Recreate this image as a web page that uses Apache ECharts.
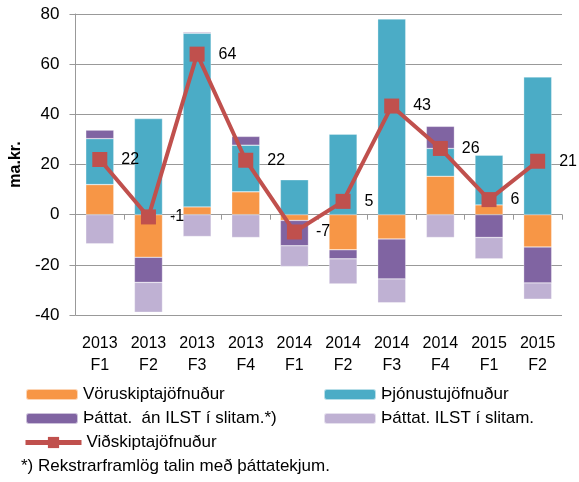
<!DOCTYPE html>
<html>
<head>
<meta charset="utf-8">
<script src="https://cdn.jsdelivr.net/npm/echarts@6/dist/echarts.min.js"></script>
<style>
html,body{margin:0;padding:0;background:#fff;}
#c{width:579px;height:482px;}
</style>
</head>
<body>
<div id="c"></div>
<script>
var categories = ['2013\nF1','2013\nF2','2013\nF3','2013\nF4','2014\nF1','2014\nF2','2014\nF3','2014\nF4','2015\nF1','2015\nF2'];
var voruskipta = [12.0, -17.0, 3.1, 9.1, -2.3, -14.0, -9.7, 15.3, 3.9, -12.9];
var thjonustu  = [18.3, 38.3, 69.2, 18.6, 13.9, 32.1, 78.0, 11.1, 19.8, 54.9];
var thattatAn  = [3.4, -10.0, 0.4, 3.5, -10.1, -3.6, -15.9, 8.8, -9.1, -14.3];
var thattatILST= [-11.6, -11.9, -8.7, -9.1, -8.3, -10.0, -9.5, -9.1, -8.5, -6.5];
var vidskipta  = [22.0, -0.9, 64.0, 21.7, -6.9, 5.3, 43.3, 26.4, 6.0, 21.3];
var yTicks = {min:-40, max:80, interval:20};
var names = ['Vöruskiptajöfnuður','Þjónustujöfnuður','Þáttat.  án ILST í slitam.*)','Þáttat. ILST í slitam.','Viðskiptajöfnuður'];
var footnote = '*) Rekstrarframlög talin með þáttatekjum.';

var FONT = 'Liberation Sans';
var chart = echarts.init(document.getElementById('c'));
function barSeries(name, data, color){
  return {name:name, type:'bar', stack:'a', data:data, barWidth:28,
    itemStyle:{color:color, borderColor:'rgba(255,255,255,0.6)', borderWidth:0.5}};
}
function leg(name, left, top, isLine){
  var l = {data:[name], left:left, top:top, orient:'horizontal',
    itemWidth: isLine?56:52, itemHeight: isLine?14:11, itemGap:5, padding:0,
    textStyle:{fontFamily:FONT, fontSize:17, color:'#000', lineHeight:17}};
  if (isLine) { l.lineStyle = {width:5}; }
  return l;
}
var option = {
  animation:false,
  backgroundColor:'#fff',
  textStyle:{fontFamily:FONT},
  grid:{left:66, right:17, top:14, bottom:167, containLabel:false},
  legend:[
    leg(names[0], 25, 386),
    leg(names[1], 323, 386),
    leg(names[2], 25, 410),
    leg(names[3], 323, 410),
    leg(names[4], 23, 434, true)
  ],
  graphic:[{type:'text', left:21, top:458, style:{text:footnote, font:'17px "Liberation Sans"', fill:'#000'}}],
  xAxis:[
    {type:'category', data:categories, position:'bottom',
     axisLine:{onZero:true, lineStyle:{color:'#999', width:1}},
     axisTick:{show:true, length:5, alignWithLabel:false, lineStyle:{color:'#999'}},
     axisLabel:{show:false}, splitLine:{show:false}},
    {type:'category', data:categories, position:'bottom',
     axisLine:{show:false, onZero:false}, axisTick:{show:false},
     axisLabel:{show:true, margin:18, fontSize:16, lineHeight:22, color:'#000', fontFamily:FONT}}
  ],
  yAxis:{type:'value', min:yTicks.min, max:yTicks.max, interval:yTicks.interval,
    name:'ma.kr.', nameLocation:'middle', nameGap:46,
    nameTextStyle:{fontWeight:'bold', fontSize:16, color:'#000', fontFamily:FONT},
    axisLine:{show:true, lineStyle:{color:'#999'}},
    axisTick:{show:true, length:6, lineStyle:{color:'#999'}},
    axisLabel:{fontSize:17, color:'#000', margin:16, fontFamily:FONT},
    splitLine:{show:true, lineStyle:{color:'#999', width:1}}},
  series:[
    barSeries(names[0], voruskipta, '#F79646'),
    barSeries(names[1], thjonustu, '#4BACC6'),
    barSeries(names[2], thattatAn, '#8064A2'),
    barSeries(names[3], thattatILST, '#BFB1D3'),
    {name:names[4], type:'line', data:vidskipta, z:10,
     lineStyle:{color:'#C0504D', width:4}, itemStyle:{color:'#C0504D'},
     symbol:'rect', symbolSize:15,
     label:{show:true, position:'right', distance:14, fontSize:16, color:'#000', fontFamily:FONT,
       formatter:function(p){return Math.round(p.value);}}}
  ]
};
chart.setOption(option);
</script>
</body>
</html>
